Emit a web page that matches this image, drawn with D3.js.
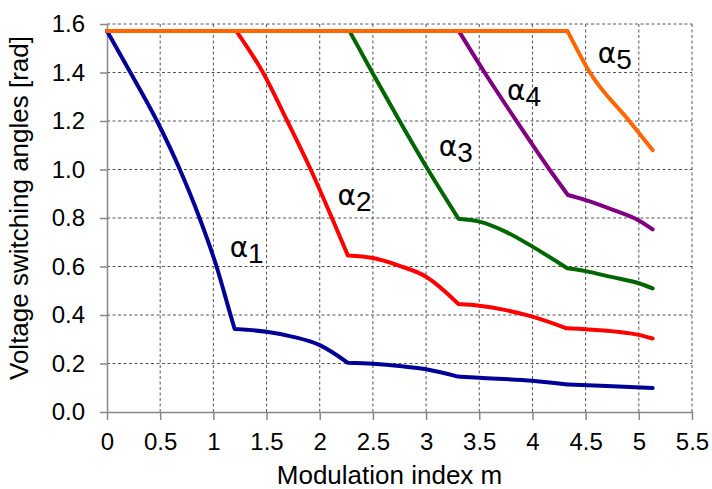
<!DOCTYPE html>
<html>
<head>
<meta charset="utf-8">
<script src="https://cdn.jsdelivr.net/npm/d3@7"></script>
<style>
  body { margin: 0; background: #fff; }
  svg { display: block; font-family: "Liberation Sans", Arial, sans-serif; }
</style>
</head>
<body>
<svg id="chart" width="712" height="489"></svg>
<script>
// tick values
const xTicks = [0, 0.5, 1, 1.5, 2, 2.5, 3, 3.5, 4, 4.5, 5, 5.5];
const yTicks = [0, 0.2, 0.4, 0.6, 0.8, 1.0, 1.2, 1.4, 1.6];

// switching angles [m, rad]
const alpha1 = [[0, 1.571], [0.22, 1.4], [0.47, 1.2], [0.685, 1.0], [0.87, 0.8], [1.03, 0.6],
  [1.155, 0.41], [1.2, 0.342], [1.5, 0.331], [1.75, 0.31], [2.0, 0.276], [2.265, 0.203],
  [2.5, 0.199], [2.75, 0.19], [3.0, 0.176], [3.3, 0.146], [3.5, 0.141], [4.0, 0.129],
  [4.33, 0.113], [4.7, 0.107], [5.13, 0.099]];
const alpha2 = [[0, 1.571], [1.216, 1.571], [1.466, 1.4], [1.695, 1.2], [1.915, 1.0], [2.115, 0.8],
  [2.265, 0.645], [2.5, 0.635], [2.75, 0.603], [3.0, 0.558], [3.305, 0.445], [3.5, 0.438],
  [3.75, 0.42], [4.0, 0.393], [4.32, 0.345], [4.5, 0.341], [5.0, 0.318], [5.13, 0.303]];
const alpha3 = [[0, 1.571], [2.28, 1.571], [2.494, 1.4], [2.751, 1.2], [3.017, 1.0], [3.305, 0.797],
  [3.5, 0.785], [3.75, 0.743], [4.0, 0.682], [4.327, 0.593], [4.5, 0.581], [4.75, 0.556],
  [5.0, 0.531], [5.13, 0.51]];
const alpha4 = [[0, 1.571], [3.308, 1.571], [3.55, 1.4], [3.85, 1.2], [4.16, 1.0], [4.333, 0.895],
  [4.5, 0.874], [4.75, 0.835], [5.0, 0.79], [5.13, 0.753]];
const alpha5 = [[0, 1.571], [4.33, 1.571], [4.54, 1.4], [4.91, 1.2], [5.13, 1.08]];

// m values where a curve has a sharp corner
const corners1 = [1.2, 2.265, 3.3, 4.33];
const corners2 = [1.216, 2.265, 3.305, 4.32];
const corners3 = [2.28, 3.305, 4.327];
const corners4 = [3.308, 4.333];
const corners5 = [4.33];

const series = [alpha1, alpha2, alpha3, alpha4, alpha5];
const corners = [corners1, corners2, corners3, corners4, corners5];
const seriesColors = ["#000096", "#ff0000", "#006600", "#800080", "#ff6600"];
const labelSubs = ["1", "2", "3", "4", "5"];
const labelAt = [[1.153, 0.639], [2.168, 0.854], [3.12, 1.056], [3.76, 1.287], [4.615, 1.439]];

const svg = d3.select("#chart");
const margin = {top: 24, right: 20, bottom: 77, left: 107};
const width = 712 - margin.left - margin.right;
const height = 489 - margin.top - margin.bottom;

const x = d3.scaleLinear().domain([0, 5.5]).range([0, width]);
const y = d3.scaleLinear().domain([0, 1.6]).range([height, 0]);

const g = svg.append("g")
  .attr("transform", "translate(" + margin.left + "," + margin.top + ")");

// dashed grid
g.append("g").selectAll("line").data(xTicks.filter(d => d > 0)).join("line")
  .attr("x1", d => x(d)).attr("x2", d => x(d))
  .attr("y1", 0).attr("y2", height)
  .attr("stroke", "#555").attr("stroke-width", 1).attr("stroke-dasharray", "3,2.5");
g.append("g").selectAll("line").data(yTicks.filter(d => d > 0)).join("line")
  .attr("x1", 0).attr("x2", width)
  .attr("y1", d => y(d)).attr("y2", d => y(d))
  .attr("stroke", "#555").attr("stroke-width", 1).attr("stroke-dasharray", "3,2.5");

// axes
const xAxis = g.append("g")
  .attr("transform", "translate(0," + height + ")")
  .call(d3.axisBottom(x).tickValues(xTicks).tickSize(8).tickPadding(13).tickSizeOuter(0)
    .tickFormat(d3.format("")));
const yAxis = g.append("g")
  .call(d3.axisLeft(y).tickValues(yTicks).tickSize(7).tickPadding(15).tickSizeOuter(0)
    .tickFormat(d3.format(".1f")));
[xAxis, yAxis].forEach(a => {
  a.select(".domain").attr("stroke", "#888").attr("stroke-width", 1.5);
  a.selectAll(".tick line").attr("stroke", "#888").attr("stroke-width", 1.5);
  a.selectAll(".tick text").attr("font-size", 24).attr("fill", "#000")
    .attr("font-family", "'Liberation Sans', Arial, sans-serif");
});

// curves: smooth between the corners, sharp at the corners
const smooth = d3.line().x(d => x(d[0])).y(d => y(d[1])).curve(d3.curveMonotoneX);
function cornerPath(pts, cm) {
  const segs = [[pts[0]]];
  pts.slice(1).forEach((p, i) => {
    segs[segs.length - 1].push(p);
    if (cm.includes(p[0]) && i < pts.length - 2) segs.push([p]);
  });
  return segs.map((s, i) => {
    const d = smooth(s);
    return i ? d.replace(/^M/, "L") : d;
  }).join("");
}
series.forEach((s, i) => {
  g.append("path")
    .attr("fill", "none")
    .attr("stroke", seriesColors[i])
    .attr("stroke-width", 4)
    .attr("stroke-linejoin", "round")
    .attr("stroke-linecap", "round")
    .attr("d", cornerPath(s, corners[i]));
});

// alpha labels
labelAt.forEach((p, i) => {
  const t = g.append("text")
    .attr("x", x(p[0])).attr("y", y(p[1]))
    .attr("font-size", 28).attr("fill", "#000");
  t.append("tspan").attr("font-family", "'DejaVu Sans', sans-serif").text("α");
  t.append("tspan").attr("dy", 6).text(labelSubs[i]);
});

// titles
svg.append("text")
  .attr("x", margin.left + width / 2 - 10).attr("y", 484)
  .attr("text-anchor", "middle").attr("font-size", 26)
  .text("Modulation index m");
svg.append("text")
  .attr("transform", "translate(28," + 208 + ") rotate(-90)")
  .attr("text-anchor", "middle").attr("font-size", 26)
  .text("Voltage switching angles [rad]");
</script>
</body>
</html>
